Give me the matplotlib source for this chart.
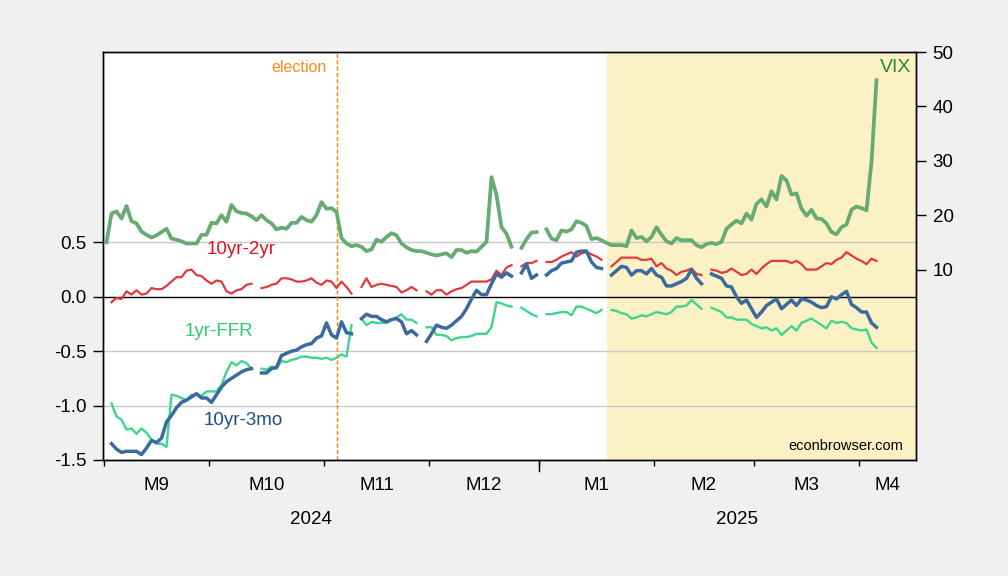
import numpy as np
import pandas as pd
import matplotlib
matplotlib.use("Agg")
import matplotlib.pyplot as plt
import matplotlib.transforms as mtransforms

plt.rcParams['font.family'] = ['Liberation Sans', 'DejaVu Sans']

nan = np.nan

# business days, Sep 2 2024 .. Apr 4 2025
dates = pd.bdate_range('2024-09-02', '2025-04-04')

vix = [15.0, 20.3, 20.7, 19.4, 21.7, 18.9, 18.5, 17.0, 16.4, 15.9,
       16.3, 16.9, 17.5, 15.7, 15.5, 15.2, 14.8, 14.8, 14.8, 16.4,
       16.4, 18.6, 18.5, 20.0, 18.8, 21.9, 20.7, 20.4, 20.3, 19.8,
       19.1, 20.0, 19.1, 18.5, 17.4, 17.7, 17.5, 18.6, 18.6, 19.7,
       19.1, 18.8, 20.0, 22.4, 21.2, 21.3, 20.6, 15.8, 14.8, 14.3,
       14.5, 14.2, 13.4, 13.7, 15.5, 15.1, 16.0, 16.7, 16.3, 14.8,
       14.1, 13.6, 13.4, 13.4, 13.1, 12.8, 12.6, 12.8, 13.0, 12.3,
       13.6, 13.6, 13.1, 13.4, 13.3, 14.2, 15.1, 27.0, 23.7, 17.8,
       16.6, 14.2, nan, 14.0, 15.6, 16.8, 16.9, nan, 17.4, 15.7,
       15.4, 17.2, 17.0, 17.4, 18.9, 18.6, 18.0, 15.6, 15.8, 15.4,
       14.9, 14.5, 14.5, 14.5, 14.3, 17.2, 15.8, 16.0, 15.2, 16.0,
       17.8, 16.4, 15.2, 14.8, 15.8, 15.4, 15.4, 15.4, 14.5, 14.1,
       14.7, 14.9, 14.7, 15.1, 17.5, 18.3, 19.0, 18.5, 20.3, 19.2,
       22.1, 22.9, 21.6, 24.4, 22.9, 27.2, 26.4, 23.8, 24.0, 21.2,
       19.9, 21.0, 19.4, 19.3, 18.5, 16.9, 16.5, 17.8, 18.3, 21.0,
       21.6, 21.3, 20.9, 29.8, 44.8]

spread_10y2y = [nan, -0.05, -0.01, -0.02, 0.05, 0.02, 0.06, 0.02, 0.03, 0.08,
                0.07, 0.07, 0.10, 0.14, 0.18, 0.18, 0.24, 0.25, 0.20, 0.19,
                0.15, 0.12, 0.15, 0.14, 0.05, 0.03, 0.06, 0.07, 0.11, 0.12,
                nan, 0.08, 0.09, 0.11, 0.12, 0.17, 0.17, 0.16, 0.14, 0.14,
                0.15, 0.17, 0.13, 0.11, 0.15, 0.14, 0.08, 0.14, 0.09, 0.03,
                nan, 0.09, 0.17, 0.09, 0.11, 0.12, 0.11, 0.10, 0.09, 0.04,
                0.06, 0.09, 0.06, nan, 0.05, 0.02, 0.06, 0.06, 0.02, 0.05,
                0.07, 0.08, 0.11, 0.14, 0.14, 0.14, 0.14, 0.16, 0.24, 0.20,
                0.27, 0.29, nan, 0.28, 0.31, 0.31, 0.33, nan, 0.32, 0.32,
                0.34, 0.37, 0.39, 0.41, 0.37, 0.40, 0.41, 0.39, 0.37, 0.34,
                nan, 0.28, 0.32, 0.36, 0.36, 0.36, 0.36, 0.34, 0.34, 0.35,
                0.28, 0.31, 0.26, 0.24, 0.20, 0.23, 0.24, 0.26, 0.21, 0.20,
                nan, 0.25, 0.24, 0.22, 0.23, 0.26, 0.23, 0.20, 0.21, 0.25,
                0.21, 0.26, 0.30, 0.33, 0.33, 0.33, 0.33, 0.31, 0.33, 0.30,
                0.25, 0.25, 0.25, 0.28, 0.31, 0.30, 0.34, 0.36, 0.41, 0.38,
                0.35, 0.33, 0.30, 0.35, 0.33]

spread_10y3m = [nan, -1.35, -1.40, -1.43, -1.42, -1.42, -1.42, -1.45, -1.39, -1.32,
                -1.34, -1.30, -1.15, -1.09, -1.02, -0.97, -0.95, -0.92, -0.89, -0.93,
                -0.93, -0.97, -0.90, -0.83, -0.78, -0.75, -0.72, -0.69, -0.67, -0.66,
                nan, -0.70, -0.70, -0.66, -0.65, -0.54, -0.52, -0.50, -0.49, -0.46,
                -0.44, -0.43, -0.38, -0.36, -0.24, -0.35, -0.38, -0.23, -0.33, -0.34,
                nan, -0.20, -0.16, -0.18, -0.18, -0.21, -0.23, -0.21, -0.20, -0.23,
                -0.34, -0.31, -0.35, nan, -0.41, -0.34, -0.26, -0.28, -0.29, -0.26,
                -0.22, -0.18, -0.11, -0.02, 0.06, 0.02, 0.02, 0.12, 0.21, 0.18,
                0.22, 0.19, nan, 0.22, 0.30, 0.17, 0.20, nan, 0.20, 0.24,
                0.26, 0.31, 0.32, 0.33, 0.41, 0.42, 0.42, 0.32, 0.27, 0.26,
                nan, 0.20, 0.24, 0.28, 0.27, 0.20, 0.24, 0.24, 0.21, 0.26,
                0.20, 0.18, 0.10, 0.10, 0.12, 0.14, 0.17, 0.25, 0.17, 0.12,
                nan, 0.21, 0.19, 0.17, 0.10, 0.09, 0.00, -0.06, -0.03, -0.11,
                -0.19, -0.14, -0.08, -0.05, -0.02, -0.11, -0.07, -0.03, -0.08, -0.02,
                -0.03, -0.05, -0.08, -0.10, -0.09, 0.00, -0.02, 0.02, 0.05, -0.07,
                -0.10, -0.14, -0.14, -0.24, -0.28]

spread_1yffr = [nan, -0.98, -1.10, -1.13, -1.22, -1.21, -1.26, -1.21, -1.25, -1.31,
                -1.35, -1.35, -1.38, -0.90, -0.91, -0.93, -0.95, -0.90, -0.90, -0.91,
                -0.87, -0.87, -0.87, -0.81, -0.69, -0.60, -0.63, -0.59, -0.61, -0.66,
                nan, -0.66, -0.67, -0.64, -0.66, -0.59, -0.60, -0.58, -0.57, -0.55,
                -0.55, -0.56, -0.56, -0.57, -0.56, -0.58, -0.56, -0.53, -0.55, -0.26,
                nan, -0.20, -0.26, -0.23, -0.24, -0.24, -0.24, -0.21, -0.19, -0.16,
                -0.21, -0.21, -0.24, nan, -0.28, -0.28, -0.35, -0.35, -0.36, -0.40,
                -0.38, -0.37, -0.37, -0.36, -0.34, -0.34, -0.34, -0.28, -0.05, -0.06,
                -0.08, -0.09, nan, -0.10, -0.13, -0.16, -0.18, nan, -0.16, -0.16,
                -0.15, -0.14, -0.14, -0.17, -0.09, -0.09, -0.11, -0.13, -0.15, -0.12,
                nan, -0.12, -0.13, -0.15, -0.16, -0.20, -0.19, -0.17, -0.18, -0.16,
                -0.14, -0.15, -0.16, -0.14, -0.09, -0.09, -0.08, -0.03, -0.07, -0.11,
                nan, -0.10, -0.12, -0.14, -0.19, -0.19, -0.21, -0.21, -0.21, -0.25,
                -0.27, -0.29, -0.28, -0.31, -0.29, -0.35, -0.31, -0.27, -0.31, -0.24,
                -0.22, -0.20, -0.23, -0.26, -0.29, -0.22, -0.24, -0.23, -0.24, -0.29,
                -0.30, -0.31, -0.30, -0.42, -0.47]

election_date = '2024-11-05'
trump_start = '2025-01-20'
month_labels = ['M9', 'M10', 'M11', 'M12', 'M1', 'M2', 'M3', 'M4']

x = np.arange(len(dates))
xmin, xmax = -0.7, 161.9

fig = plt.figure(figsize=(10.08, 5.76), dpi=100, facecolor='#F0F0F0')
ax = fig.add_axes([103 / 1008, 116 / 576, 813 / 1008, 408 / 576])
ax.set_facecolor('white')

i_trump = dates.get_loc(pd.Timestamp(trump_start))
i_elec = dates.get_loc(pd.Timestamp(election_date))
ax.axvspan(i_trump, xmax, color='#FBF1C4', lw=0, zorder=0)

for yv in [-1.5, -1.0, -0.5, 0.5]:
    ax.axhline(yv, color='#C8C8C8', lw=1, zorder=1)
ax.axhline(0, color='black', lw=1, zorder=1)

ax.axvline(i_elec, color='#FF8000', lw=1, dashes=(3, 1.6), zorder=2)

ax.plot(x, spread_1yffr, color='#3DD68A', lw=1.7, zorder=3)
ax.plot(x, spread_10y2y, color='#E0393E', lw=1.6, zorder=3)
ax.plot(x, spread_10y3m, color='#3A6A9E', lw=2.5, zorder=4)

ax.set_xlim(xmin, xmax)
ax.set_ylim(-1.5, 2.25)
ax.set_yticks([-1.5, -1.0, -0.5, 0.0, 0.5])
ax.set_yticklabels(['-1.5', '-1.0', '-0.5', '0.0', '0.5'])

ax2 = ax.twinx()
ax2.plot(x, vix, color='#66AB72', lw=2.7, zorder=5)
ax2.set_ylim(-25, 50)
ax2.set_yticks([10, 20, 30, 40, 50])
ax2.set_xlim(xmin, xmax)

for a in (ax, ax2):
    for s in a.spines.values():
        s.set_color('black')
        s.set_linewidth(1)
ax.tick_params(axis='y', direction='out', length=7, width=1, labelsize=13.5, pad=5)
ax2.tick_params(axis='y', direction='out', length=7, width=1, labelsize=13.5, pad=5)

# month boundaries and label positions
month_starts = [i for i in range(len(dates)) if i == 0 or dates[i].month != dates[i - 1].month]
bounds = [i - 0.5 for i in month_starts]
mids = []
for k, b in enumerate(bounds):
    right = bounds[k + 1] if k + 1 < len(bounds) else xmax
    mids.append((b + min(right, xmax)) / 2)

ax.set_xticks(mids)
ax.set_xticklabels(month_labels)
ax.tick_params(axis='x', which='major', length=0, labelsize=13.5, pad=12)
ax.set_xticks(bounds, minor=True)
ax.tick_params(axis='x', which='minor', direction='out', length=4, width=1)

# longer tick at the year boundary
trans = mtransforms.blended_transform_factory(ax.transData, ax.transAxes)
year_bound = bounds[month_labels.index('M1')]
ax.plot([year_bound, year_bound], [0, -0.027], color='black', lw=1,
        transform=trans, clip_on=False)

ax.text(0.256, -0.147, '2024', transform=ax.transAxes, ha='center', va='center', fontsize=13.5)
ax.text(0.780, -0.147, '2025', transform=ax.transAxes, ha='center', va='center', fontsize=13.5)

ax.text(0.170, 0.515, '10yr-2yr', transform=ax.transAxes, ha='center', va='center',
        fontsize=13.5, color='#E0141E')
ax.text(0.142, 0.316, '1yr-FFR', transform=ax.transAxes, ha='center', va='center',
        fontsize=13.5, color='#2ECC71')
ax.text(0.172, 0.098, '10yr-3mo', transform=ax.transAxes, ha='center', va='center',
        fontsize=13.5, color='#1F4E8A')
ax.text(0.975, 0.961, 'VIX', transform=ax.transAxes, ha='center', va='center',
        fontsize=14, color='#2A8A2A', zorder=10)
ax.text(0.2755, 0.963, 'election', transform=ax.transAxes, ha='right', va='center',
        fontsize=11.5, color='#FF8C1A')
ax.text(0.984, 0.034, 'econbrowser.com', transform=ax.transAxes, ha='right', va='center',
        fontsize=10.5, color='black')

fig.savefig('out.png', dpi=100, facecolor=fig.get_facecolor())
